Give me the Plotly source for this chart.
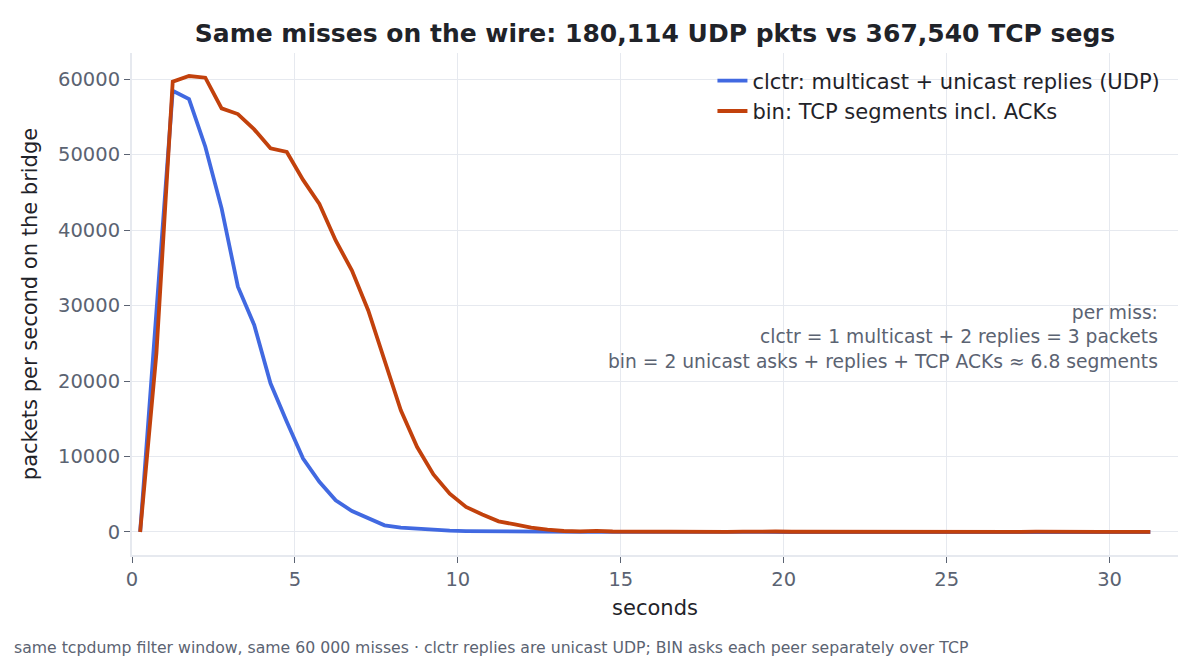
import plotly.graph_objects as go

# bins are 0.5 s wide, plotted at the bin centre
seconds = [0.25 + 0.5 * i for i in range(63)]

# clctr: multicast + unicast replies (UDP)
udp_pps = [
    0, 29000, 58450, 57350, 51040, 42870, 32490, 27420, 19690, 14610,
    9730, 6640, 4190, 2780, 1765, 880, 570, 440, 230, 170,
    120, 90, 60, 50, 40, 30, 20, 10, 10, 0,
    0, 0, 0, 0, 0, 0, 0, 0, 0, 0,
    0, 0, 0, 0, 0, 0, 0, 0, 0, 0,
    0, 0, 0, 0, 0, 0, 0, 0, 0, 0,
    0, 0, 0,
]

# bin: TCP segments incl. ACKs
tcp_pps = [
    0, 23700, 59650, 60400, 60180, 56110, 55360, 53330, 50820, 50340,
    46640, 43450, 38610, 34640, 29350, 22730, 16110, 11250, 7630, 5075,
    3310, 2330, 1410, 1010, 570, 300, 130, 90, 150, 60,
    40, 20, 10, 20, 30, 10, 20, 40, 80, 60,
    30, 20, 10, 10, 20, 40, 60, 40, 20, 10,
    10, 20, 10, 10, 20, 40, 60, 50, 20, 10,
    10, 10, 10,
]

GRID = "#e6e9ef"
TICK = "#5b6372"
INK = "#1f2329"

fig = go.Figure()
fig.add_trace(go.Scatter(
    x=seconds, y=udp_pps, mode="lines",
    line=dict(color="#4169e1", width=3.8),
    name="clctr: multicast + unicast replies (UDP)",
))
fig.add_trace(go.Scatter(
    x=seconds, y=tcp_pps, mode="lines",
    line=dict(color="#c2410c", width=3.8),
    name="bin: TCP segments incl. ACKs",
))

fig.add_annotation(
    xref="paper", yref="paper", x=0.983, y=0.508, xanchor="right", yanchor="top",
    align="right", showarrow=False,
    text="per miss:<br>clctr = 1 multicast + 2 replies = 3 packets<br>"
         "bin = 2 unicast asks + replies + TCP ACKs ≈ 6.8 segments",
    font=dict(size=18.7, color=TICK),
)
fig.add_annotation(
    xref="paper", yref="paper", x=-0.1147, y=-0.185, xanchor="left", yanchor="middle",
    showarrow=False,
    text="same tcpdump filter window, same 60 000 misses · clctr replies are unicast UDP; "
         "BIN asks each peer separately over TCP",
    font=dict(size=15.7, color=TICK),
)

fig.update_layout(
    width=1200, height=660,
    template="plotly_white",
    font=dict(family="DejaVu Sans", color=INK),
    margin=dict(l=124, r=30, t=45, b=113),
    title=dict(
        text="<b>Same misses on the wire: 180,114 UDP pkts vs 367,540 TCP segs</b>",
        x=0.5, xref="paper", xanchor="center", y=0.962, yanchor="middle",
        font=dict(size=25, color=INK),
    ),
    legend=dict(
        x=0.988, y=0.985, xanchor="right", yanchor="top",
        bgcolor="rgba(255,255,255,0)", font=dict(size=21, color=INK),
    ),
    plot_bgcolor="white",
)
fig.update_xaxes(
    range=[0, 32.1], dtick=5,
    title=dict(text="seconds", font=dict(size=21, color=INK), standoff=10),
    showgrid=True, gridcolor=GRID, zeroline=False,
    showline=True, linecolor=GRID, linewidth=2,
    ticks="outside", ticklen=6, tickcolor=TICK, tickfont=dict(size=19.5, color=TICK),
)
fig.update_yaxes(
    range=[-3050, 63450], dtick=10000, tickformat="d",
    title=dict(text="packets per second on the bridge", font=dict(size=21, color=INK)),
    showgrid=True, gridcolor=GRID, zeroline=False,
    showline=True, linecolor=GRID, linewidth=2,
    ticks="outside", ticklen=6, tickcolor=TICK, tickfont=dict(size=19.5, color=TICK),
)

fig.write_html("out.html")
